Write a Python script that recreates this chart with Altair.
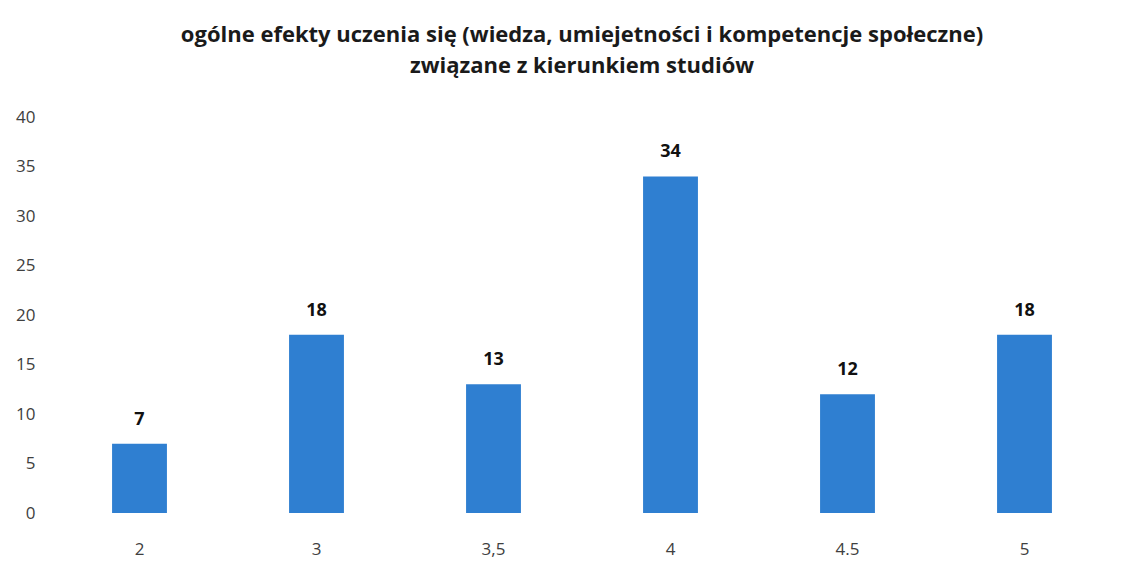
import altair as alt
import pandas as pd

categories = ["2", "3", "3,5", "4", "4.5", "5"]
values = [7, 18, 13, 34, 12, 18]
y_ticks = [0, 5, 10, 15, 20, 25, 30, 35, 40]

df = pd.DataFrame({"cat": categories, "val": values})

base = alt.Chart(df).encode(
    x=alt.X("cat:N", sort=categories, title=None,
            scale=alt.Scale(paddingInner=0.69, paddingOuter=0.345),
            axis=alt.Axis(labelAngle=0, domain=False, ticks=False, labelPadding=28,
                          labelFontSize=17, labelColor="#404040", labelFont="Open Sans")),
    y=alt.Y("val:Q", title=None,
            scale=alt.Scale(domain=[0, 40], nice=False),
            axis=alt.Axis(values=y_ticks, domain=False, ticks=False, grid=False,
                          labelPadding=16, labelFontSize=17, labelColor="#404040",
                          labelFont="Open Sans")),
)

bars = base.mark_bar(color="#2F7FD1")
text = base.mark_text(dy=-15, baseline="bottom", fontSize=18, fontWeight="bold",
                      font="Open Sans", color="#111111").encode(text="val:Q")

chart = (bars + text).properties(
    width=1062, height=396,
    background="white",
    title=alt.TitleParams(
        ["ogólne efekty uczenia się (wiedza, umiejetności i kompetencje społeczne)",
         "związane z kierunkiem studiów"],
        font="Open Sans", fontSize=22, fontWeight="bold", color="#1a1a1a",
        anchor="middle", offset=30, lineHeight=31),
    autosize=alt.AutoSizeParams(type="none"),
    padding={"left": 43, "top": 109, "right": 5, "bottom": 50},
).configure_view(strokeWidth=0, stroke="transparent")

chart.save("out.html", embed_options={"renderer": "svg", "actions": False})
